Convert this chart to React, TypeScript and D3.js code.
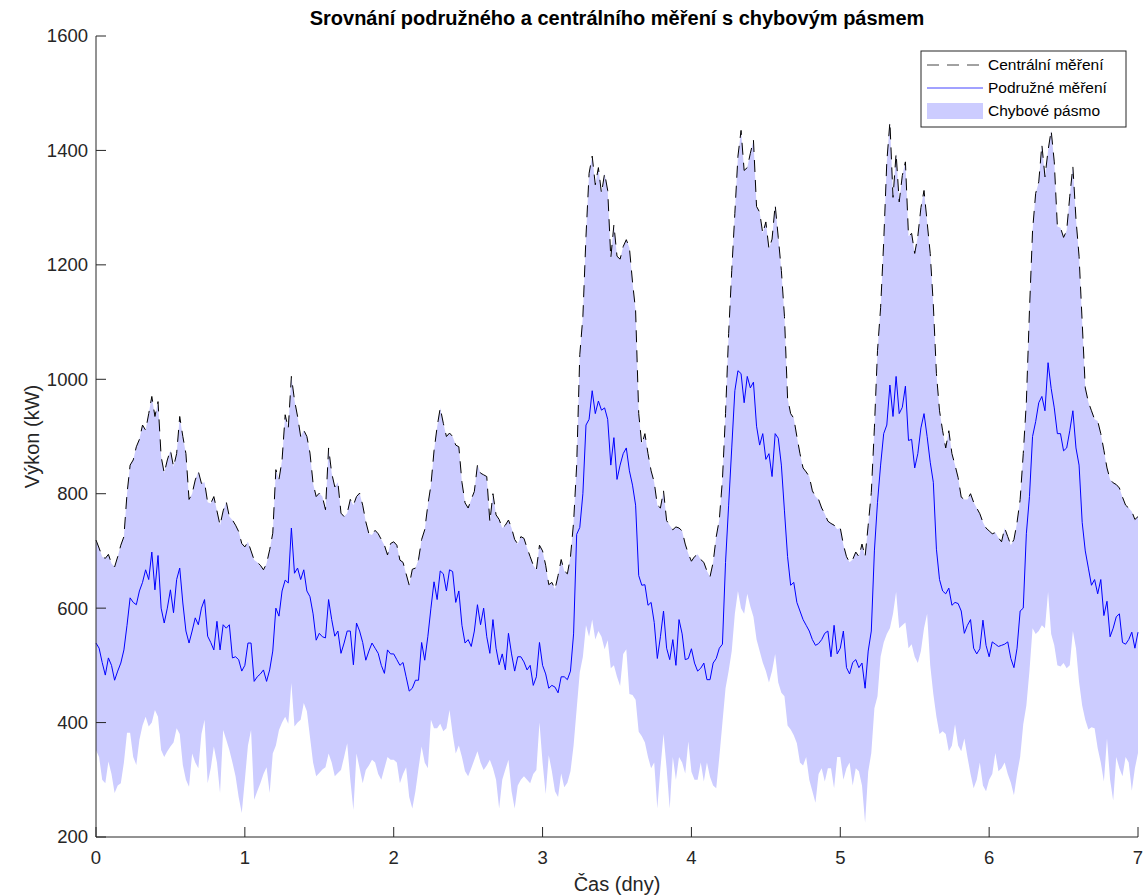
import React from "react";
import * as d3 from "d3";

// central metering, half-hourly over 7 days (kW)
const central = [
  719, 705, 690, 687, 694, 678, 672, 690, 710, 725, 800, 850, 859, 882, 895, 920, 911, 940, 970, 935, 961, 865, 836, 859,
  876, 847, 870, 935, 900, 870, 790, 800, 824, 839, 818, 820, 785, 783, 795, 770, 745, 770, 786, 760, 754, 745, 734, 713,
  707, 716, 700, 684, 680, 675, 667, 678, 702, 731, 842, 825, 859, 938, 914, 1005, 964, 935, 900, 911, 900, 871, 818, 795,
  801, 795, 772, 880, 836, 812, 820, 766, 760, 766, 790, 780, 795, 801, 780, 751, 730, 728, 736, 730, 720, 710, 693, 713,
  716, 710, 684, 680, 660, 640, 668, 670, 685, 720, 737, 780, 815, 875, 917, 950, 923, 900, 906, 900, 885, 882, 820, 784,
  775, 790, 804, 850, 836, 833, 830, 751, 800, 763, 755, 740, 745, 754, 740, 720, 712, 725, 722, 705, 690, 675, 667, 710,
  700, 675, 641, 645, 633, 657, 685, 665, 660, 690, 750, 850, 1043, 1110, 1250, 1360, 1390, 1340, 1370, 1325, 1360, 1330, 1212, 1270,
  1215, 1210, 1232, 1244, 1230, 1170, 1120, 940, 886, 905, 870, 840, 820, 780, 775, 805, 753, 745, 737, 742, 740, 735, 712, 695,
  682, 690, 694, 685, 680, 665, 655, 680, 725, 755, 825, 940, 1080, 1190, 1290, 1390, 1435, 1365, 1370, 1395, 1418, 1302, 1292, 1255,
  1275, 1228, 1245, 1305, 1248, 1190, 1110, 967, 940, 932, 900, 870, 845, 838, 830, 805, 795, 790, 775, 765, 752, 748, 745, 738,
  740, 711, 690, 680, 685, 698, 690, 712, 690, 745, 802, 915, 1050, 1125, 1240, 1380, 1450, 1318, 1395, 1310, 1356, 1380, 1250, 1255,
  1220, 1250, 1300, 1330, 1275, 1220, 1130, 1010, 945, 910, 880, 910, 870, 850, 828, 794, 790, 790, 800, 785, 775, 765, 750, 740,
  735, 730, 732, 723, 716, 740, 725, 710, 720, 750, 790, 870, 960, 1120, 1260, 1325, 1345, 1410, 1354, 1400, 1435, 1380, 1267, 1265,
  1248, 1260, 1320, 1372, 1280, 1215, 1100, 985, 960, 945, 930, 927, 905, 876, 845, 825, 819, 816, 810, 794, 780, 775, 769, 755,
  760,
];

// sub-metering, half-hourly (kW)
const sub = [
  539, 530, 505, 483, 513, 500, 474, 490, 504, 527, 570, 618, 610, 606, 630, 645, 667, 650, 698, 632, 692, 600, 574, 600,
  632, 592, 650, 670, 609, 560, 539, 560, 583, 571, 600, 615, 551, 540, 527, 577, 527, 571, 565, 571, 513, 515, 510, 490,
  500, 539, 539, 472, 480, 485, 492, 472, 492, 525, 600, 586, 630, 649, 644, 740, 661, 670, 650, 667, 630, 620, 590, 544,
  556, 550, 548, 615, 580, 551, 560, 521, 539, 560, 560, 501, 574, 560, 540, 509, 525, 539, 530, 521, 500, 486, 527, 520,
  520, 510, 500, 505, 480, 455, 460, 474, 474, 540, 509, 550, 600, 646, 615, 665, 660, 630, 667, 664, 610, 630, 570, 539,
  545, 533, 560, 606, 571, 600, 550, 521, 580, 530, 501, 520, 492, 556, 520, 490, 515, 515, 506, 492, 500, 465, 480, 540,
  500, 485, 460, 465, 462, 452, 480, 480, 475, 490, 555, 729, 741, 800, 920, 930, 980, 940, 962, 946, 950, 930, 850, 898,
  825, 850, 870, 880, 840, 815, 780, 657, 640, 641, 605, 610, 575, 512, 550, 595, 530, 510, 545, 500, 580, 555, 510, 512,
  529, 504, 490, 495, 504, 475, 475, 504, 512, 530, 537, 680, 780, 880, 980, 1015, 1010, 959, 1005, 985, 995, 918, 885, 905,
  860, 870, 830, 905, 897, 850, 770, 690, 640, 645, 610, 595, 580, 570, 560, 545, 535, 538, 545, 556, 560, 515, 570, 520,
  530, 560, 496, 485, 505, 510, 496, 504, 460, 525, 560, 700, 785, 850, 905, 920, 990, 935, 1005, 940, 951, 988, 893, 895,
  845, 870, 915, 940, 900, 855, 820, 703, 650, 630, 625, 635, 605, 610, 608, 595, 556, 570, 580, 530, 520, 529, 579, 535,
  515, 541, 537, 533, 535, 537, 541, 512, 496, 530, 595, 600, 730, 795, 900, 926, 959, 970, 945, 1029, 984, 950, 905, 905,
  875, 880, 910, 945, 880, 850, 750, 700, 670, 640, 650, 625, 650, 587, 612, 550, 565, 585, 590, 540, 537, 545, 558, 530,
  558,
];

// lower edge of the error band, half-hourly (kW)
const lower = [
  352, 340, 300, 294, 332, 310, 277, 290, 294, 330, 382, 382, 340, 326, 370, 395, 410, 393, 400, 422, 410, 352, 340, 350,
  358, 365, 390, 380, 326, 300, 288, 346, 330, 320, 380, 405, 294, 320, 358, 330, 277, 387, 370, 352, 330, 306, 270, 242,
  300, 360, 387, 265, 280, 294, 310, 322, 277, 346, 360, 387, 400, 410, 398, 469, 393, 400, 405, 434, 420, 375, 330, 306,
  312, 318, 322, 346, 330, 306, 312, 317, 340, 364, 300, 247, 346, 320, 294, 317, 325, 335, 330, 310, 300, 320, 340, 335,
  335, 330, 294, 310, 322, 270, 250, 280, 320, 358, 330, 320, 405, 390, 390, 398, 385, 390, 422, 380, 346, 360, 340, 315,
  306, 320, 335, 350, 330, 317, 325, 335, 320, 300, 250, 300, 318, 335, 280, 250, 290, 300, 306, 300, 294, 310, 317, 400,
  330, 275, 343, 315, 280, 270, 311, 287, 295, 315, 360, 424, 488, 515, 570, 550, 580, 545, 560, 550, 528, 544, 495, 500,
  480, 464, 520, 528, 450, 448, 440, 384, 376, 365, 340, 320, 330, 250, 320, 380, 320, 250, 340, 300, 340, 330, 311, 367,
  314, 300, 300, 330, 297, 330, 305, 290, 285, 340, 400, 460, 490, 525, 590, 630, 600, 590, 625, 603, 585, 545, 525, 505,
  490, 470, 490, 520, 470, 452, 446, 395, 388, 378, 364, 330, 325, 340, 300, 280, 260, 310, 320, 297, 320, 320, 285, 340,
  340, 300, 320, 330, 290, 320, 315, 290, 225, 314, 347, 425, 446, 515, 540, 555, 565, 590, 628, 565, 570, 575, 530, 537,
  515, 504, 525, 565, 590, 500, 450, 410, 380, 385, 380, 350, 360, 397, 360, 350, 372, 340, 310, 285, 300, 330, 290, 280,
  300, 310, 347, 315, 320, 330, 310, 295, 273, 310, 340, 397, 430, 490, 565, 555, 560, 570, 565, 628, 555, 535, 500, 498,
  504, 495, 500, 560, 530, 471, 430, 405, 388, 392, 390, 355, 330, 297, 372, 300, 264, 340, 320, 306, 340, 330, 281, 320,
  347,
];

const xTicks = [0, 1, 2, 3, 4, 5, 6, 7];
const yTicks = [200, 400, 600, 800, 1000, 1200, 1400, 1600];

const title = "Srovnání podružného a centrálního měření s chybovým pásmem";
const legendLabels = ["Centrální měření", "Podružné měření", "Chybové pásmo"];

const W = 1145;
const H = 896;
const margin = { top: 36, right: 7, bottom: 59, left: 96 };
const font = "'Liberation Sans', Arial, sans-serif";
const axisColor = "#262626";
const dash = "12,8";

export default function App() {
  const x = d3.scaleLinear().domain([0, 7]).range([margin.left, W - margin.right]);
  const y = d3.scaleLinear().domain([200, 1600]).range([H - margin.bottom, margin.top]);

  const idx = central.map((_, i) => i);
  const t = (i: number) => i / 48; // half-hour steps, in days

  const band =
    d3
      .area<number>()
      .x((i) => x(t(i)))
      .y0((i) => y(lower[i]))
      .y1((i) => y(central[i]))(idx) ?? "";

  const subLine =
    d3
      .line<number>()
      .x((i) => x(t(i)))
      .y((i) => y(sub[i]))(idx) ?? "";

  const centralLine =
    d3
      .line<number>()
      .x((i) => x(t(i)))
      .y((i) => y(central[i]))(idx) ?? "";

  const x0 = x(0);
  const y0 = y(200);
  const cx = (x0 + x(7)) / 2;

  return (
    <svg
      width={W}
      height={H}
      style={{ position: "absolute", left: 0, top: 0, background: "#fff" }}
      fontFamily={font}
    >
      <path d={band} fill="#ccccff" stroke="none" />
      <path d={subLine} fill="none" stroke="#0000ff" strokeWidth={1} />
      <path d={centralLine} fill="none" stroke="#000" strokeWidth={1} strokeDasharray={dash} />

      {/* axes, box off, ticks inside */}
      <line x1={x0} x2={x0} y1={y(1600)} y2={y0} stroke={axisColor} strokeWidth={1} />
      <line x1={x0} x2={x(7)} y1={y0} y2={y0} stroke={axisColor} strokeWidth={1} />
      {yTicks.map((v) => (
        <g key={"y" + v}>
          <line x1={x0} x2={x0 + 10} y1={y(v)} y2={y(v)} stroke={axisColor} />
          <text x={x0 - 8} y={y(v)} dy="0.35em" textAnchor="end" fontSize={18.5} fill={axisColor}>
            {v}
          </text>
        </g>
      ))}
      {xTicks.map((v) => (
        <g key={"x" + v}>
          <line x1={x(v)} x2={x(v)} y1={y0} y2={y0 - 10} stroke={axisColor} />
          <text x={x(v)} y={y0 + 27} textAnchor="middle" fontSize={18.5} fill={axisColor}>
            {v}
          </text>
        </g>
      ))}

      <text x={cx} y={25} textAnchor="middle" fontSize={20} fontWeight="bold" fill="#000">
        {title}
      </text>
      <text x={cx} y={891} textAnchor="middle" fontSize={20} fill={axisColor}>
        Čas (dny)
      </text>
      <text
        transform={`translate(39, ${(y(1600) + y0) / 2}) rotate(-90)`}
        textAnchor="middle"
        fontSize={20}
        fill={axisColor}
      >
        Výkon (kW)
      </text>

      {/* legend */}
      <g transform="translate(921, 51)">
        <rect x={0} y={0} width={205} height={76} fill="#fff" stroke={axisColor} strokeWidth={1} />
        <line x1={6} x2={62} y1={14} y2={14} stroke="#444" strokeDasharray={dash} />
        <line x1={6} x2={62} y1={37} y2={37} stroke="#4444ff" />
        <rect x={6} y={52} width={56} height={16} fill="#ccccff" />
        {legendLabels.map((l, i) => (
          <text key={l} x={67} y={14 + i * 23} dy="0.35em" fontSize={15.5} fill="#000">
            {l}
          </text>
        ))}
      </g>
    </svg>
  );
}
